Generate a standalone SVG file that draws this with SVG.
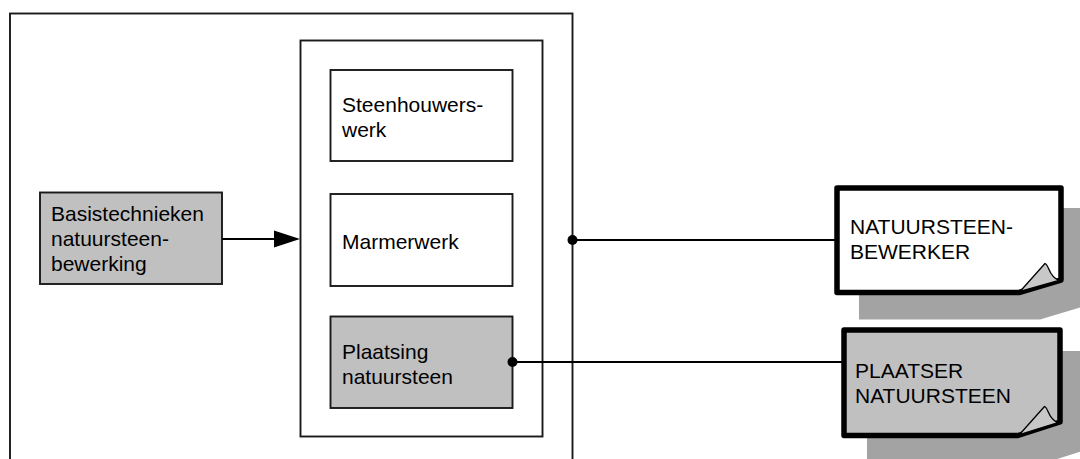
<svg xmlns="http://www.w3.org/2000/svg" width="1080" height="459" viewBox="0 0 1080 459">
  <style>
    .box { stroke: #1a1a1a; stroke-width: 1.9; }
    .white { fill: #ffffff; }
    .grey { fill: #c0c0c0; }
    .doc { stroke: #000; stroke-width: 5.5; stroke-linejoin: round; }
    .shadow { fill: #a3a3a3; }
    .fold { fill: #c8c8c8; stroke: #000; stroke-width: 1.3; stroke-linejoin: round; }
    .lbl { font-family: "Liberation Sans", Arial, sans-serif; font-size: 21px; fill: #000; }
    .line { stroke: #000; stroke-width: 1.9; fill: none; }
  </style>
  <rect width="1080" height="459" fill="#ffffff"/>

  <g id="frame-outer">
    <rect class="box" x="10" y="13.5" width="562.5" height="470" fill="none"/>
  </g>
  <g id="frame-inner">
    <rect class="box white" x="300.5" y="40.5" width="242" height="396"/>
  </g>

  <g id="node-basis">
    <rect class="box grey" x="40" y="192.5" width="182" height="91.5"/>
    <text class="lbl" x="51" y="221">Basistechnieken</text>
    <text class="lbl" x="51" y="246">natuursteen-</text>
    <text class="lbl" x="51" y="271">bewerking</text>
  </g>

  <g id="node-steenhouwers">
    <rect class="box white" x="330.5" y="70" width="182" height="91"/>
    <text class="lbl" x="342" y="112">Steenhouwers-</text>
    <text class="lbl" x="342" y="137">werk</text>
  </g>

  <g id="node-marmer">
    <rect class="box white" x="330.5" y="194" width="182" height="92"/>
    <text class="lbl" x="342" y="249">Marmerwerk</text>
  </g>

  <g id="node-plaatsing">
    <rect class="box grey" x="330.5" y="316.5" width="182" height="91.5"/>
    <text class="lbl" x="342" y="359">Plaatsing</text>
    <text class="lbl" x="342" y="384">natuursteen</text>
  </g>

  <g id="node-bewerker">
    <path class="shadow" d="M859,208 H1085 V306 L1040,319.5 H859 Z"/>
    <path class="doc white" d="M837,188 H1061 V280 L1019,292.5 H837 Z"/>
    <path class="fold" d="M1020,291.5 L1045,263.5 C1049.5,265 1048,276 1059,280.5 Z"/>
    <text class="lbl" x="850" y="234">NATUURSTEEN-</text>
    <text class="lbl" x="850" y="259">BEWERKER</text>
  </g>

  <g id="node-plaatser">
    <path class="shadow" d="M867,351 H1085 V450.2 L1054,460 H867 Z"/>
    <path class="doc grey" d="M844,330 H1060 V422 L1018,435.5 H844 Z"/>
    <path class="fold" d="M1019.5,434.5 L1044.5,406.5 C1049,408 1047.5,419 1058,422.5 Z"/>
    <text class="lbl" x="855" y="378">PLAATSER</text>
    <text class="lbl" x="855" y="403">NATUURSTEEN</text>
  </g>

  <g id="connectors">
    <line class="line" x1="222" y1="239" x2="276" y2="239"/>
    <polygon points="274,230.5 300,239 274,247.5" fill="#000"/>
    <line class="line" x1="572.5" y1="240" x2="836" y2="240"/>
    <circle cx="572.5" cy="240" r="5" fill="#000"/>
    <line class="line" x1="512.5" y1="362" x2="843" y2="362"/>
    <circle cx="512.5" cy="362" r="5" fill="#000"/>
  </g>
</svg>
